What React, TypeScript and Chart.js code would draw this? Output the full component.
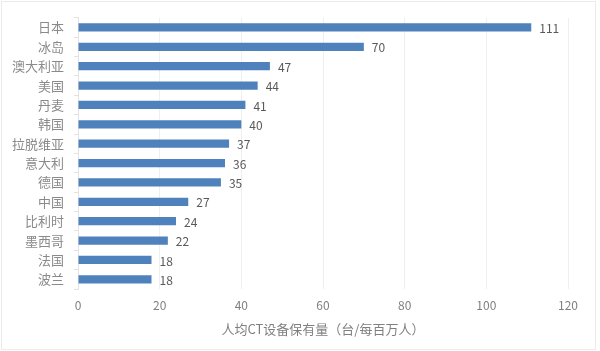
import React, { useEffect, useRef } from "react";
import { Chart, registerables } from "chart.js";

Chart.register(...registerables);

const categories = ["日本", "冰岛", "澳大利亚", "美国", "丹麦", "韩国", "拉脱维亚", "意大利", "德国", "中国", "比利时", "墨西哥", "法国", "波兰"];
const values = [111, 70, 47, 44, 41, 40, 37, 36, 35, 27, 24, 22, 18, 18];
const axisTitle = "人均CT设备保有量（台/每百万人）";

const FONT = "'Noto Sans CJK SC', 'Open Sans', sans-serif";

export default function App() {
  const ref = useRef<HTMLCanvasElement>(null);
  useEffect(() => {
    document.body.style.margin = "0";
    const valueLabels = {
      id: "valueLabels",
      afterDatasetsDraw(chart: any) {
        const ctx = chart.ctx;
        const meta = chart.getDatasetMeta(0);
        ctx.save();
        ctx.fillStyle = "#595959";
        ctx.font = `12px ${FONT}`;
        ctx.textAlign = "left";
        ctx.textBaseline = "middle";
        meta.data.forEach((bar: any, i: number) => {
          ctx.fillText(String(values[i]), bar.x + 8, bar.y + 1);
        });
        ctx.restore();
      },
    };
    const border = {
      id: "border",
      beforeDraw(chart: any) {
        const ctx = chart.ctx;
        ctx.save();
        ctx.fillStyle = "#ffffff";
        ctx.fillRect(0, 0, chart.width, chart.height);
        ctx.strokeStyle = "#ebebeb";
        ctx.lineWidth = 1;
        ctx.strokeRect(1.5, 1.5, 594, 348);
        ctx.restore();
      },
    };
    const chart = new Chart(ref.current!, {
      type: "bar",
      data: {
        labels: categories,
        datasets: [
          {
            data: values,
            backgroundColor: "#4f81bd",
            borderWidth: 0,
            barPercentage: 0.85,
            categoryPercentage: 0.5,
          },
        ],
      },
      options: {
        indexAxis: "y",
        animation: false,
        responsive: false,
        maintainAspectRatio: false,
        layout: { padding: { top: 17, right: 32, bottom: 0, left: 0 } },
        plugins: { legend: { display: false }, tooltip: { enabled: false } },
        scales: {
          x: {
            min: 0,
            max: 120,
            ticks: { stepSize: 20, color: "#7f7f7f", font: { size: 12, family: FONT }, padding: 9 },
            grid: { color: "#efefef", drawTicks: false },
            border: { display: false },
            title: { display: true, text: axisTitle, color: "#7f7f7f", font: { size: 13, family: FONT }, padding: { top: 0, bottom: 14 } },
            afterFit(scale: any) {
              scale.height = 351 - 289;
            },
          },
          y: {
            ticks: { color: "#8a8a8a", font: { size: 13, family: FONT }, padding: 10 },
            grid: { offset: true, drawOnChartArea: false, drawTicks: true, tickLength: 4, tickColor: "#e3e3e3" },
            border: { display: true, color: "#e3e3e3" },
            afterFit(scale: any) {
              scale.width = 78;
            },
          },
        },
      },
      plugins: [border, valueLabels],
    });
    return () => chart.destroy();
  }, []);
  return (
    <div style={{ position: "absolute", left: 0, top: 0, width: 600, height: 351 }}>
      <canvas ref={ref} width={600} height={351} />
    </div>
  );
}
